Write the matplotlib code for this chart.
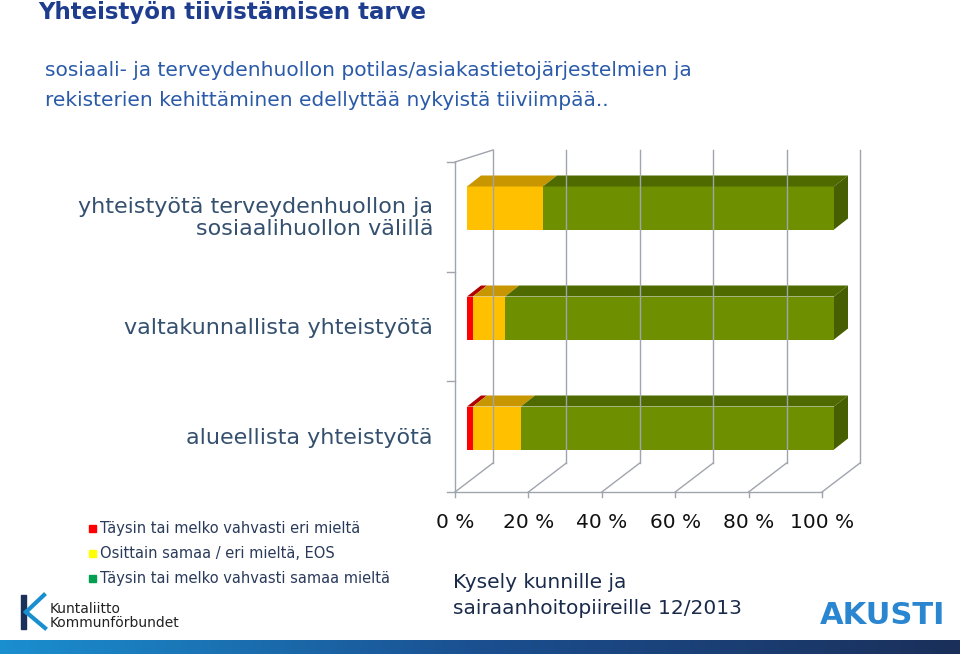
import matplotlib
matplotlib.use("Agg")
import matplotlib.pyplot as plt
from matplotlib.patches import Polygon, Rectangle
from matplotlib.colors import LinearSegmentedColormap
import numpy as np

categories = ["yhteistyötä terveydenhuollon ja\nsosiaalihuollon välillä",
              "valtakunnallista yhteistyötä",
              "alueellista yhteistyötä"]
red_vals = [0.0, 1.6, 1.6]
yellow_vals = [20.7, 8.8, 13.1]
green_vals = [79.3, 89.6, 85.3]
ticks = [0, 20, 40, 60, 80, 100]
tick_labels = ["0 %", "20 %", "40 %", "60 %", "80 %", "100 %"]
legend_labels = ["Täysin tai melko vahvasti eri mieltä",
                 "Osittain samaa / eri mieltä, EOS",
                 "Täysin tai melko vahvasti samaa mieltä"]

W, H = 960, 654
fig = plt.figure(figsize=(9.6, 6.54), dpi=100)
fig.patch.set_facecolor("white")

def fx(px): return px / W
def fy(py): return 1 - py / H

ax = fig.add_axes([fx(467), fy(483), (834 - 467) / W, 330 / H])
ax.set_xlim(0, 100); ax.set_ylim(0, 3)
ax.axis("off")
sx = 3.67; sy = 110.0
X = lambda px: (px - 467) / sx
Y = lambda py: (483 - py) / sy
gc = "#a0a4ac"
for i, t in enumerate(ticks):
    xb = X(493 + i * 73.4); xf = X(455 + i * 73.4)
    ax.plot([xb, xb], [Y(463), Y(150)], color=gc, lw=1, clip_on=False)
    ax.plot([xf, xb], [Y(492), Y(463)], color=gc, lw=1, clip_on=False)
    ax.plot([xf, xf], [Y(492), Y(497)], color=gc, lw=1, clip_on=False)
    ax.text(xf, Y(523), tick_labels[i], ha="center", va="center", fontsize=14.5,
            color="#111111", clip_on=False)
ax.plot([X(455), X(822)], [Y(492), Y(492)], color=gc, lw=1, clip_on=False)
ax.plot([X(455), X(455)], [Y(492), Y(162)], color=gc, lw=1, clip_on=False)
ax.plot([X(455), X(493)], [Y(162), Y(150)], color=gc, lw=1, clip_on=False)
for py in [162, 272, 381, 492]:
    ax.plot([X(447), X(455)], [Y(py), Y(py)], color=gc, lw=1, clip_on=False)

front = ["#ff0000", "#ffc000", "#6e8f00"]
topc = ["#b00000", "#c89600", "#4f6b00"]
sidec = "#475f00"
dx, dy = 14 / sx, 11 / sy
hh = 43 / sy
centers = [2.5, 1.5, 0.5]
for i, c in enumerate(centers):
    left = 0.0
    vals = [red_vals[i], yellow_vals[i], green_vals[i]]
    for j, v in enumerate(vals):
        if v <= 0:
            continue
        ax.barh(c, v, left=left, height=hh, color=front[j], lw=0)
        yt = c + hh / 2
        ax.add_patch(Polygon([[left, yt], [left + v, yt], [left + v + dx, yt + dy],
                              [left + dx, yt + dy]], closed=True, color=topc[j], lw=0))
        left += v
    yb = c - hh / 2; yt = c + hh / 2
    ax.add_patch(Polygon([[left, yb], [left, yt], [left + dx, yt + dy], [left + dx, yb + dy]],
                         closed=True, color=sidec, lw=0))
for p in ax.patches:
    p.set_clip_on(False)

lab_col = "#34506e"
ax_bg = fig.add_axes([0, 0, 1, 1], zorder=-1); ax_bg.axis("off")
ax_bg.set_xlim(0, W); ax_bg.set_ylim(H, 0)
ax_bg.text(433, 218, categories[0], ha="right", va="center", fontsize=16,
           color=lab_col, linespacing=1.15)
ax_bg.text(433, 328, categories[1], ha="right", va="center", fontsize=16, color=lab_col)
ax_bg.text(433, 438, categories[2], ha="right", va="center", fontsize=16, color=lab_col)

ax_bg.text(38, 13, "Yhteistyön tiivistämisen tarve", fontsize=16.5, fontweight="bold",
           color="#1f3d8f", va="center")
ax_bg.text(45, 70, "sosiaali- ja terveydenhuollon potilas/asiakastietojärjestelmien ja",
           fontsize=14.5, color="#2a5aa8", va="center")
ax_bg.text(45, 100, "rekisterien kehittäminen edellyttää nykyistä tiiviimpää..",
           fontsize=14.5, color="#2a5aa8", va="center")

lc = ["#ff0000", "#ffff00", "#00a050"]
for k, (t, y) in enumerate(zip(legend_labels, [529, 554, 579])):
    ax_bg.add_patch(Rectangle((89, y - 4), 7, 7, color=lc[k]))
    ax_bg.text(100, y, t, fontsize=10.5, color="#2a3a5a", va="center")

ax_bg.text(453, 583, "Kysely kunnille ja", fontsize=14.5, color="#1a2a4a", va="center")
ax_bg.text(453, 608, "sairaanhoitopiireille 12/2013", fontsize=14.5, color="#1a2a4a", va="center")

ax_bg.add_patch(Rectangle((21, 595), 5, 34, color="#1a2f5a"))
ax_bg.plot([26, 44], [612, 595], color="#1a8fd0", lw=3)
ax_bg.plot([26, 45], [612, 628], color="#1a8fd0", lw=3)
ax_bg.text(50, 609, "Kuntaliitto", fontsize=10, color="#222", va="center")
ax_bg.text(50, 623, "Kommunförbundet", fontsize=10, color="#222", va="center")
ax_bg.text(820, 615, "AKUSTI", fontsize=22, fontweight="bold", color="#2a86d0", va="center")

grad = np.linspace(0, 1, 256).reshape(1, -1)
cm = LinearSegmentedColormap.from_list("g", ["#1a8fd0", "#1a4f90", "#1a2f5a"])
ax_bg.imshow(grad, extent=[0, W, 654, 640], aspect="auto", cmap=cm)
ax_bg.set_xlim(0, W); ax_bg.set_ylim(H, 0)

fig.savefig("out.png", dpi=100)
